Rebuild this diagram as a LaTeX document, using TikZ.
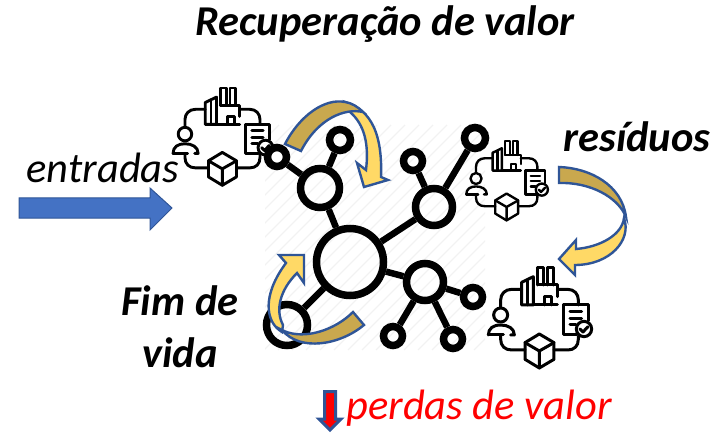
\documentclass[tikz,border=0pt]{standalone}
\usepackage{fontspec}
\setmainfont{Carlito}
\definecolor{edgeblue}{HTML}{2F5597}
\definecolor{gold}{HTML}{C9A84E}
\definecolor{sun}{HTML}{FFD966}
\definecolor{arrowblue}{HTML}{4472C4}
\newcommand{\recycleicon}[3]{%
\begin{scope}[shift={(#1,#2)},x=#3*0.3333pt,y=-#3*0.3333pt,line width=#3*3pt,line join=round,line cap=round,black]
\draw (125,118) -- (95,118) .. controls (75,118) and (62,132) .. (62,150) -- (62,172);
\draw (62,255) -- (62,268) .. controls (62,288) and (75,300) .. (95,300) -- (135,300);
\draw (222,300) -- (263,300) .. controls (283,300) and (295,288) .. (295,268) -- (295,258);
\draw (232,118) -- (263,118) .. controls (283,118) and (295,132) .. (295,150) -- (295,165);
\draw (125,165) -- (125,97) -- (160,80) -- (160,165) -- cycle;
\draw (143,92) -- (143,165);
\draw (172,105) -- (172,52) -- (192,52) -- (192,105);
\draw (202,105) -- (202,52) -- (220,52) -- (220,105);
\draw (172,105) -- (232,105) -- (232,140);
\draw (160,165) -- (232,165);
\draw (195,165) -- (195,140) -- (215,140) -- (215,165);
\draw (62,195) circle[radius=21];
\draw (25,255) .. controls (25,235) and (40,225) .. (62,225) .. controls (84,225) and (103,235) .. (103,255) -- (92,255);
\draw (25,255) -- (70,255);
\draw (290,255) -- (250,255) -- (250,165) -- (325,165) -- (325,212);
\draw (270,185) -- (305,185) (270,205) -- (305,205) (270,225) -- (288,225);
\draw[fill=white] (312,237) circle[radius=23];
\draw (300,237) -- (309,246) -- (324,230);
\draw (178,252) -- (222,278) -- (222,328) -- (178,354) -- (135,328) -- (135,278) -- cycle;
\draw (135,278) -- (178,303) -- (222,278) (178,303) -- (178,354);
\end{scope}}
\begin{document}
\begin{tikzpicture}[x=1pt,y=-1pt,
  big/.style={circle,draw=black,line width=7.5pt,inner sep=0pt,minimum size=#1 pt},
  link/.style={draw=black,line width=6.5pt},
  curved/.style={draw=edgeblue,line width=2.4pt,line join=miter},
  title/.style={font=\fontsize{42.5}{46}\selectfont\bfseries\itshape,inner sep=0pt},
  plain/.style={font=\fontsize{42.5}{46}\selectfont\itshape,inner sep=0pt}]
\useasboundingbox (0,0) rectangle (726,433);
% faint hatching behind the network
\begin{scope}
\clip (265,125) rectangle (485,350);
\foreach \k in {0,14,...,460}
  \draw[black!5,line width=1.2pt] (265+\k-225,350) -- (265+\k,125);
\end{scope}
\recycleicon{165}{71.3}{0.966}
\recycleicon{459.7}{127.2}{0.79}
\recycleicon{480}{250}{1}
% network
\node[big=67] (hub) at (350,262) {};
\node[big=39] (ul) at (320,188) {};
\node[big=37] (ur) at (434,207) {};
\node[big=37] (lr) at (425,282) {};
\node[big=21] (ultop) at (340,140) {};
\node[big=19,fill=white] (ulleft) at (277,157) {};
\node[big=21] (urtop) at (475,138) {};
\node[big=19] (urleft) at (413,161) {};
\node[big=19] (lrright) at (473,297) {};
\node[big=19] (lrdl) at (393,336) {};
\node[big=19] (lrdr) at (453,339) {};
\node[big=41] (ll) at (287,325) {};
\draw[link] (hub) -- (ul);
\draw[link] (hub) -- (ur);
\draw[link] (hub) -- (lr);
\draw[link] (hub) -- (ll);
\draw[link] (ul) -- (ultop);
\draw[link] (ul) -- (ulleft);
\draw[link] (ur) -- (urtop);
\draw[link] (ur) -- (urleft);
\draw[link] (lr) -- (lrright);
\draw[link] (lr) -- (lrdl);
\draw[link] (lr) -- (lrdr);
% top curved arrow
\draw[curved,fill=sun] (345,102) .. controls (365,108) and (383,125) .. (381,177) -- (388,180) -- (364,187) -- (357,163) -- (366,170) .. controls (369,145) and (365,125) .. (350,112) -- cycle;
\draw[curved,fill=gold] (285,144) .. controls (300,115) and (325,98) .. (345,102) .. controls (352,103) and (358,107) .. (363,112) .. controls (345,108) and (318,118) .. (301,151) -- cycle;
% right curved arrow
\draw[curved,fill=sun] (624,218) .. controls (632,240) and (610,265) .. (575,265) -- (575,275) -- (559,259) -- (576,240) -- (576,249) .. controls (600,247) and (622,235) .. (624,218) -- cycle;
\draw[curved,fill=gold] (559,167) .. controls (590,168) and (622,185) .. (626,217) .. controls (618,197) and (590,182) .. (559,183) -- cycle;
% lower-left curved arrow
\draw[curved,fill=sun] (282,332) .. controls (265,322) and (262,295) .. (286,263) -- (279,255) -- (304,255) -- (304,283) -- (297,273) .. controls (280,290) and (275,310) .. (283,325) -- cycle;
\draw[curved,fill=gold] (282,330) .. controls (300,352) and (340,345) .. (364,325) -- (353,312) .. controls (335,330) and (305,340) .. (284,331) -- cycle;
% straight arrows
\draw[draw=edgeblue,fill=arrowblue,line width=1pt] (19,198) -- (150,198) -- (150,188) -- (172,208) -- (150,230) -- (150,218) -- (19,218) -- cycle;
\draw[draw=edgeblue,fill=red,line width=3pt] (324.5,391.5) -- (335.5,391.5) -- (335.5,419) -- (341,419) -- (330,430) -- (319,419) -- (324.5,419) -- cycle;
% labels
\node[title] (t1) at (385,24) {Recuperação de valor};
\node[plain] (t2) at (103,168) {entradas};
\node[title] (t3) at (637,137) {resíduos};
\node[title] (t4) at (180,301) {Fim de};
\node[title] (t5) at (180,353) {vida};
\node[plain,text=red] (t6) at (479,408) {perdas de valor};
\end{tikzpicture}
\end{document}
